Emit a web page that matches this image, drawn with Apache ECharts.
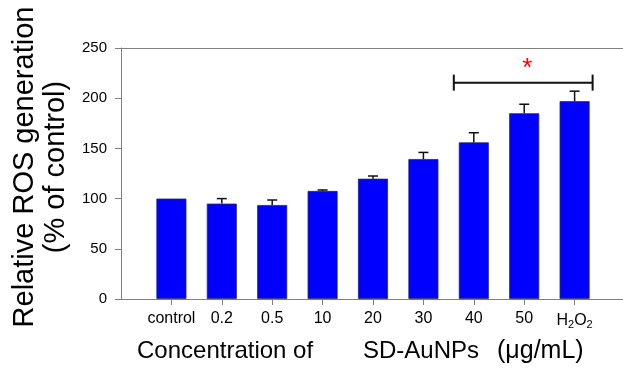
<!DOCTYPE html>
<html><head><meta charset="utf-8">
<script src="https://cdn.jsdelivr.net/npm/echarts@6/dist/echarts.min.js"></script>
<style>html,body{margin:0;padding:0;background:#fff}#c{width:623px;height:371px}</style>
</head><body><div id="c"></div>
<script>
const categories = ['control', '0.2', '0.5', '10', '20', '30', '40', '50', 'H2O2'];
const means = [100, 95, 93.6, 107.6, 119.8, 139.4, 156, 185, 197];
const errors = [0, 5, 5, 1, 2.7, 6.6, 9.6, 9, 10];
const yTicks = [0, 50, 100, 150, 200, 250];
const bracket = { from: 6, to: 8, value: 215.5, label: '*' };

const chart = echarts.init(document.getElementById('c'));
const font = 'Liberation Sans, Arial, sans-serif';
const idx = categories.map((c, i) => i);

chart.setOption({
  animation: false,
  grid: { left: 121, right: 0, top: 48, bottom: 72, outerBoundsMode: 'none', containLabel: false },
  xAxis: [{
    type: 'value', min: -1, max: 8.96, interval: 1,
    axisLine: { onZero: false, lineStyle: { color: '#808080', width: 1 } },
    axisTick: { show: true, length: 6, customValues: idx, lineStyle: { color: '#808080' } },
    splitLine: { show: false },
    axisLabel: {
      customValues: idx, margin: 12, color: '#000', fontFamily: font, fontSize: 16,
      formatter: v => v === 8 ? '{n|H}{s|2}{n|O}{s|2}' : categories[v],
      rich: {
        n: { fontSize: 16, fontFamily: font, color: '#000' },
        s: { fontSize: 11, fontFamily: font, color: '#000', padding: [8, 0, 0, 0] }
      }
    },
    name: '{a|Concentration of}{b|SD-AuNPs}{c|(\u03bcg/mL)}', nameLocation: 'middle', nameGap: 40,
    nameTextStyle: {
      fontSize: 24, fontFamily: font, color: '#000', padding: [0, 0, 0, 11],
      rich: {
        a: { fontSize: 24, fontFamily: font, color: '#000', width: 226, align: 'left' },
        b: { fontSize: 24, fontFamily: font, color: '#000', width: 134, align: 'left' },
        c: { fontSize: 25, fontFamily: font, color: '#000', width: 121, align: 'left' }
      }
    }
  }, {
    type: 'value', min: -1, max: 8.96, position: 'top',
    axisLine: { show: true, onZero: false, lineStyle: { color: '#808080', width: 1 } },
    axisTick: { show: false }, axisLabel: { show: false }, splitLine: { show: false }
  }],
  yAxis: {
    type: 'value', min: 0, max: 250, interval: 50,
    axisLine: { show: true, onZero: false, lineStyle: { color: '#808080', width: 1 } },
    axisTick: { show: true, length: 6, lineStyle: { color: '#808080' } },
    splitLine: { show: false },
    axisLabel: { margin: 14, color: '#000', fontFamily: font, fontSize: 15 },
    name: 'Relative ROS generation\n(% of control)', nameLocation: 'middle', nameGap: 40,
    nameTextStyle: { fontSize: 29, fontFamily: font, color: '#000', lineHeight: 31, align: 'center',
      padding: [0, 0, 0, 13] }
  },
  series: [{
    type: 'bar', barWidth: 30,
    data: means.map((v, i) => [i, v]),
    itemStyle: { color: '#0000FF', borderColor: '#2a2a55', borderWidth: 0.8 }
  }, {
    type: 'custom',
    data: means.map((v, i) => [i, v, errors[i]]),
    renderItem: (params, api) => {
      const x = api.value(0), v = api.value(1), e = api.value(2);
      if (!e) return null;
      const p0 = api.coord([x, v]), p1 = api.coord([x, v + e]);
      const st = { stroke: '#111', lineWidth: 1.5 };
      return { type: 'group', children: [
        { type: 'line', shape: { x1: p0[0], y1: p0[1], x2: p1[0], y2: p1[1] }, style: st },
        { type: 'line', shape: { x1: p1[0] - 5, y1: p1[1], x2: p1[0] + 5, y2: p1[1] }, style: st }
      ]};
    },
    z: 5
  }, {
    type: 'custom',
    data: [[bracket.from, bracket.to, bracket.value]],
    renderItem: (params, api) => {
      const a = api.coord([api.value(0), api.value(2)]);
      const b = api.coord([api.value(1), api.value(2)]);
      const xl = a[0] - 20, xr = b[0] + 18, y = a[1];
      const st = { stroke: '#111', lineWidth: 2 };
      return { type: 'group', children: [
        { type: 'line', shape: { x1: xl, y1: y, x2: xr, y2: y }, style: st },
        { type: 'line', shape: { x1: xl, y1: y - 8, x2: xl, y2: y + 8 }, style: st },
        { type: 'line', shape: { x1: xr, y1: y - 8, x2: xr, y2: y + 8 }, style: st },
        { type: 'text', style: { x: (xl + xr) / 2 + 4, y: y - 14, text: bracket.label, fill: '#ff0000',
          font: '26px ' + font, textAlign: 'center', textVerticalAlign: 'middle' } }
      ]};
    },
    z: 5
  }]
});
</script></body></html>
